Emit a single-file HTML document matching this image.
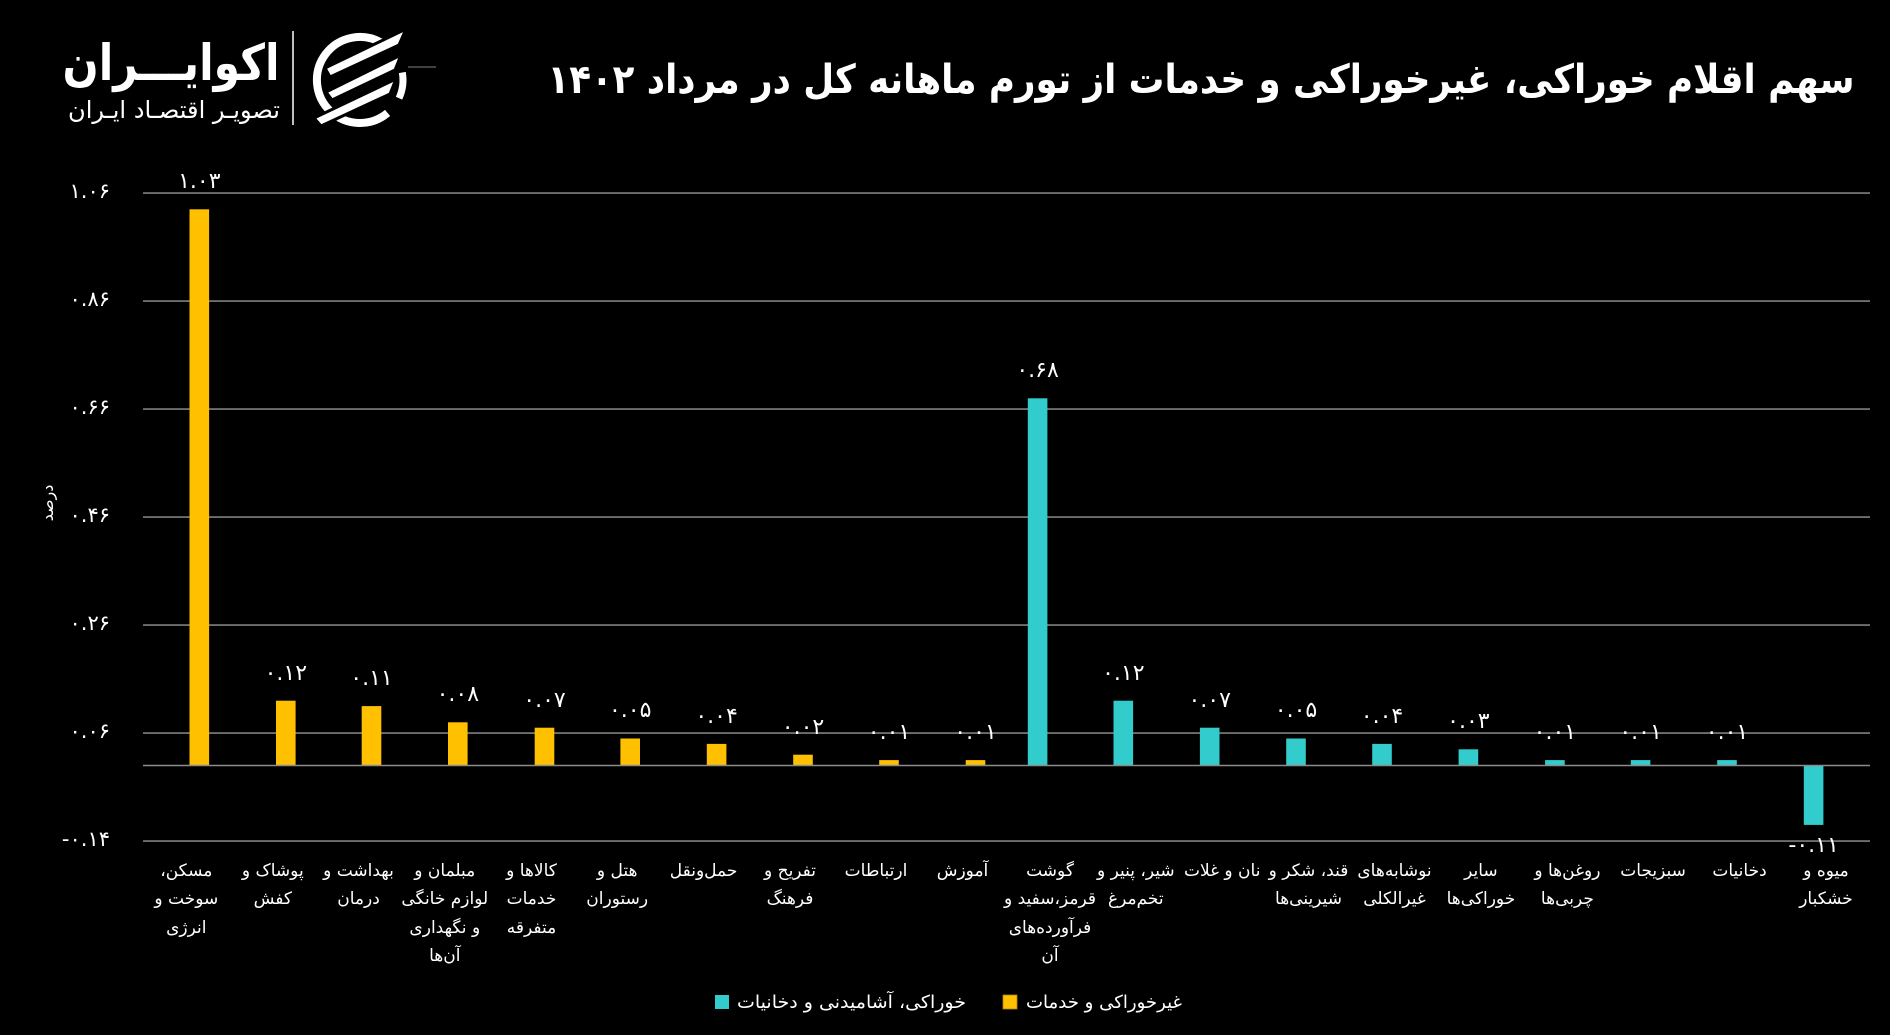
<!DOCTYPE html>
<html>
<head>
<meta charset="utf-8">
<style>
html,body{margin:0;padding:0;background:#000;}
svg{display:block;}
text{font-family:"DejaVu Sans","Liberation Sans",sans-serif;fill:#fff;}
</style>
</head>
<body>
<svg width="1890" height="1035" viewBox="0 0 1890 1035" xmlns="http://www.w3.org/2000/svg">
<rect x="0" y="0" width="1890" height="1035" fill="#000"/>

<!-- Logo -->
<text x="171" y="80" direction="rtl" text-anchor="middle" font-size="50" font-weight="bold" textLength="217" lengthAdjust="spacingAndGlyphs">اکوایـــران</text>
<text x="174" y="118" direction="rtl" text-anchor="middle" font-size="24" textLength="212" lengthAdjust="spacingAndGlyphs">تصویـر اقتصـاد ایـران</text>
<line x1="293" y1="31" x2="293" y2="125" stroke="#fff" stroke-width="1.5"/>
<path d="M 381.5 42.8 A 43 43 0 1 0 387.6 112.9" fill="none" stroke="#fff" stroke-width="8"/>
<path d="M 402.3 72.5 A 43 43 0 0 1 399 98.2" fill="none" stroke="#fff" stroke-width="7"/>
<g fill="#fff" stroke="#000" stroke-width="3" stroke-linejoin="round">
  <polygon points="325,68 406,29 399,45 330,77"/>
  <polygon points="326,92 401,55 395,70 332,100"/>
  <polygon points="314,118 396,79 390,94 321,126"/>
</g>
<line x1="408" y1="67" x2="436" y2="67" stroke="#555" stroke-width="1.5"/>

<!-- Title -->
<text x="1201" y="93" direction="rtl" text-anchor="middle" font-size="40" font-weight="bold" textLength="1307" lengthAdjust="spacingAndGlyphs">سهم اقلام خوراکی، غیرخوراکی و خدمات از تورم ماهانه کل در مرداد ۱۴۰۲</text>

<!-- Gridlines -->
<g stroke="#808080" stroke-width="1.6">
  <line x1="143" y1="193.1" x2="1870" y2="193.1"/>
  <line x1="143" y1="301.1" x2="1870" y2="301.1"/>
  <line x1="143" y1="409.1" x2="1870" y2="409.1"/>
  <line x1="143" y1="517.1" x2="1870" y2="517.1"/>
  <line x1="143" y1="625.1" x2="1870" y2="625.1"/>
  <line x1="143" y1="733.1" x2="1870" y2="733.1"/>
  <line x1="143" y1="841.1" x2="1870" y2="841.1"/>
</g>

<!-- Y tick labels -->
<g font-size="21" text-anchor="end" direction="ltr">
  <text x="110" y="198">۱.۰۶</text>
  <text x="110" y="306">۰.۸۶</text>
  <text x="110" y="414">۰.۶۶</text>
  <text x="110" y="522">۰.۴۶</text>
  <text x="110" y="630">۰.۲۶</text>
  <text x="110" y="738">۰.۰۶</text>
  <text x="110" y="846">-۰.۱۴</text>
</g>

<!-- Axis title -->
<text x="0" y="0" font-size="16" direction="rtl" text-anchor="middle" transform="translate(53,503) rotate(-90)">درصد</text>

<!-- Bars: y(v)=765.5-540v -->
<g fill="#FFC000">
  <rect x="189.5" y="209.3" width="19.6" height="556.2"/>
  <rect x="276.0" y="700.7" width="19.6" height="64.8"/>
  <rect x="361.7" y="706.1" width="19.6" height="59.4"/>
  <rect x="448.0" y="722.3" width="19.6" height="43.2"/>
  <rect x="534.7" y="727.7" width="19.6" height="37.8"/>
  <rect x="620.4" y="738.5" width="19.6" height="27.0"/>
  <rect x="706.8" y="743.9" width="19.6" height="21.6"/>
  <rect x="793.2" y="754.7" width="19.6" height="10.8"/>
  <rect x="879.2" y="760.1" width="19.6" height="5.4"/>
  <rect x="965.7" y="760.1" width="19.6" height="5.4"/>
</g>
<g fill="#33CCCC">
  <rect x="1027.8" y="398.3" width="19.6" height="367.2"/>
  <rect x="1113.5" y="700.7" width="19.6" height="64.8"/>
  <rect x="1199.9" y="727.7" width="19.6" height="37.8"/>
  <rect x="1286.2" y="738.5" width="19.6" height="27.0"/>
  <rect x="1372.2" y="743.9" width="19.6" height="21.6"/>
  <rect x="1458.6" y="749.3" width="19.6" height="16.2"/>
  <rect x="1545.1" y="760.1" width="19.6" height="5.4"/>
  <rect x="1630.8" y="760.1" width="19.6" height="5.4"/>
  <rect x="1717.2" y="760.1" width="19.6" height="5.4"/>
  <rect x="1803.8" y="765.5" width="19.6" height="59.4"/>
</g>

<!-- Zero axis line -->
<line x1="143" y1="765.5" x2="1870" y2="765.5" stroke="#8c8c8c" stroke-width="1.6"/>

<!-- Value labels -->
<g font-size="22" text-anchor="middle" direction="ltr">
  <text x="199.3" y="188">۱.۰۳</text>
  <text x="285.8" y="680">۰.۱۲</text>
  <text x="371.5" y="685">۰.۱۱</text>
  <text x="457.8" y="701">۰.۰۸</text>
  <text x="544.5" y="707">۰.۰۷</text>
  <text x="630.2" y="717">۰.۰۵</text>
  <text x="716.6" y="723">۰.۰۴</text>
  <text x="803" y="734">۰.۰۲</text>
  <text x="889" y="739">۰.۰۱</text>
  <text x="975.5" y="739">۰.۰۱</text>
  <text x="1037.6" y="377">۰.۶۸</text>
  <text x="1123.3" y="680">۰.۱۲</text>
  <text x="1209.7" y="707">۰.۰۷</text>
  <text x="1296" y="717">۰.۰۵</text>
  <text x="1382" y="723">۰.۰۴</text>
  <text x="1468.4" y="728">۰.۰۳</text>
  <text x="1554.9" y="739">۰.۰۱</text>
  <text x="1640.6" y="739">۰.۰۱</text>
  <text x="1727" y="739">۰.۰۱</text>
  <text x="1813.6" y="852">-۰.۱۱</text>
</g>

<!-- Category labels -->
<g font-size="17" text-anchor="middle" direction="rtl">
  <text x="186.3" y="876">مسکن،</text>
  <text x="186.3" y="904">سوخت و</text>
  <text x="186.3" y="933">انرژی</text>

  <text x="272.8" y="876">پوشاک و</text>
  <text x="272.8" y="904">کفش</text>

  <text x="358.5" y="876">بهداشت و</text>
  <text x="358.5" y="904">درمان</text>

  <text x="444.8" y="876">مبلمان و</text>
  <text x="444.8" y="904">لوازم خانگی</text>
  <text x="444.8" y="933">و نگهداری</text>
  <text x="444.8" y="961">آن‌ها</text>

  <text x="531.5" y="876">کالاها و</text>
  <text x="531.5" y="904">خدمات</text>
  <text x="531.5" y="933">متفرقه</text>

  <text x="617.2" y="876">هتل و</text>
  <text x="617.2" y="904">رستوران</text>

  <text x="703.6" y="876">حمل‌ونقل</text>

  <text x="790" y="876">تفریح و</text>
  <text x="790" y="904">فرهنگ</text>

  <text x="876" y="876">ارتباطات</text>

  <text x="962.5" y="876">آموزش</text>

  <text x="1050" y="876">گوشت</text>
  <text x="1050" y="904">قرمز،سفید و</text>
  <text x="1050" y="933">فرآورده‌های</text>
  <text x="1050" y="961">آن</text>

  <text x="1135.8" y="876">شیر، پنیر و</text>
  <text x="1135.8" y="904">تخم‌مرغ</text>

  <text x="1222.2" y="876">نان و غلات</text>

  <text x="1308.5" y="876">قند، شکر و</text>
  <text x="1308.5" y="904">شیرینی‌ها</text>

  <text x="1394.5" y="876">نوشابه‌های</text>
  <text x="1394.5" y="904">غیرالکلی</text>

  <text x="1480.9" y="876">سایر</text>
  <text x="1480.9" y="904">خوراکی‌ها</text>

  <text x="1567.4" y="876">روغن‌ها و</text>
  <text x="1567.4" y="904">چربی‌ها</text>

  <text x="1653.1" y="876">سبزیجات</text>

  <text x="1739.5" y="876">دخانیات</text>

  <text x="1826" y="876">میوه و</text>
  <text x="1826" y="904">خشکبار</text>
</g>

<!-- Legend -->
<rect x="715" y="995" width="14" height="14" fill="#33CCCC"/>
<text x="851.5" y="1008" font-size="18" direction="rtl" text-anchor="middle" textLength="229" lengthAdjust="spacingAndGlyphs">خوراکی، آشامیدنی و دخانیات</text>
<rect x="1003" y="995" width="14" height="14" fill="#FFC000" stroke="#b08400" stroke-width="0.8"/>
<text x="1104" y="1008" font-size="18" direction="rtl" text-anchor="middle" textLength="156" lengthAdjust="spacingAndGlyphs">غیرخوراکی و خدمات</text>
</svg>
</body>
</html>
